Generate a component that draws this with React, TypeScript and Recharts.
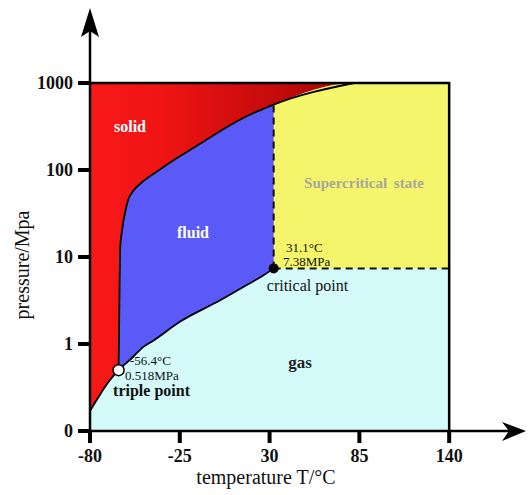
import { Area, ComposedChart, Line, ReferenceDot, Scatter, XAxis, YAxis } from 'recharts';

const SERIF = "'Liberation Serif', 'DejaVu Serif', serif";

const T_TICKS = [-80, -25, 30, 85, 140];
const P_TICKS = [0.1, 1, 10, 100, 1000];
const P_TICK_LABELS: Record<number, string> = { 0.1: '0', 1: '1', 10: '10', 100: '100', 1000: '1000' };

// solid / gas boundary, left edge up to the triple point
const sublimation = [
  { t: -80, p: 0.17 }, { t: -74, p: 0.26 }, { t: -68, p: 0.38 }, { t: -62.5, p: 0.5 },
];

// liquid / gas boundary, triple point to critical point
const vaporization = [
  { t: -62.5, p: 0.5 }, { t: -54, p: 0.7 }, { t: -47.5, p: 0.92 }, { t: -41, p: 1.1 },
  { t: -25, p: 1.8 }, { t: 0, p: 3.2 }, { t: 18, p: 5 }, { t: 26.5, p: 6.2 }, { t: 32.5, p: 7.4 },
];

// solid / liquid boundary
const melting = [
  { t: -62.5, p: 0.5 }, { t: -62, p: 3 }, { t: -61.6, p: 12 }, { t: -60.4, p: 20 },
  { t: -58.6, p: 32 }, { t: -56.7, p: 45 }, { t: -53.7, p: 57 }, { t: -47.5, p: 74 },
  { t: -39, p: 96 }, { t: -26.7, p: 137 }, { t: -12.6, p: 200 }, { t: 3.9, p: 312 },
  { t: 16.2, p: 418 }, { t: 26.6, p: 509 }, { t: 32.5, p: 565 }, { t: 81.7, p: 1000 },
];

const triplePoint = [{ t: -62.5, p: 0.5 }];
const criticalPoint = [{ t: 32.5, p: 7.4 }];

const T_MIN = -80;
const T_MAX = 140;
const P_MIN = 0.1;
const P_MAX = 1000;

const crit = criticalPoint[0];
const frame = [{ t: T_MIN, p: P_MAX }, { t: T_MAX, p: P_MAX }];
const frameEdge = [{ t: T_MIN, p: P_MAX }, { t: T_MAX, p: P_MAX }, { t: T_MAX, p: P_MIN }];
const belowMelting = [...melting, { t: T_MAX, p: P_MAX }];
const supercritical = [...melting.filter((d) => d.t >= crit.t), { t: T_MAX, p: P_MAX }];
const gas = [...sublimation, ...vaporization.slice(1), { t: T_MAX, p: crit.p }];
const gasLine = [...sublimation, ...vaporization.slice(1)];
const meltAtCrit = melting.find((d) => d.t >= crit.t)!;
const isotherm = [crit, { t: crit.t, p: meltAtCrit.p }];
const isobar = [crit, { t: T_MAX, p: crit.p }];

function note(
  key: string,
  t: number,
  p: number,
  text: string,
  style: { size?: number; weight?: string; color?: string; anchor?: 'start' | 'middle' | 'end'; spacing?: number } = {},
) {
  const { size = 14, weight = 'normal', color = '#111', anchor = 'middle', spacing = 0 } = style;
  return (
    <ReferenceDot
      key={key}
      x={t}
      y={p}
      r={0}
      ifOverflow="visible"
      shape={(d: any) => (
        <text
          x={d.cx}
          y={d.cy}
          dy="0.35em"
          textAnchor={anchor}
          fontFamily={SERIF}
          fontSize={size}
          fontWeight={weight}
          fill={color}
          wordSpacing={spacing}
        >
          {text}
        </text>
      )}
    />
  );
}

export default function App() {
  return (
    <div style={{ position: 'absolute', left: 0, top: 0, background: '#fff' }}>
      <ComposedChart width={528} height={495} margin={{ top: 15, right: 7, bottom: 0, left: 0 }}>
        <defs>
          <linearGradient id="solidFill" x1="0" y1="0" x2="1" y2="0">
            <stop offset="0%" stopColor="#f81818" />
            <stop offset="20%" stopColor="#f01414" />
            <stop offset="60%" stopColor="#b80808" />
            <stop offset="100%" stopColor="#a00000" />
          </linearGradient>
        </defs>
        <XAxis
          type="number"
          dataKey="t"
          domain={[T_MIN, 184]}
          ticks={T_TICKS}
          allowDataOverflow
          height={64}
          axisLine={{ stroke: '#000', strokeWidth: 2.5 }}
          tickLine={{ stroke: '#000', strokeWidth: 4 }}
          tickSize={12}
          tickMargin={6}
          tick={{ fill: '#111', fontSize: 18, fontWeight: 'bold', fontFamily: SERIF }}
        />
        <YAxis
          type="number"
          scale="log"
          domain={[P_MIN, 6048]}
          ticks={P_TICKS}
          allowDataOverflow
          width={90}
          axisLine={{ stroke: '#000', strokeWidth: 2.5 }}
          tickLine={{ stroke: '#000', strokeWidth: 4 }}
          tickSize={12}
          tickMargin={5}
          tickFormatter={(v: number) => P_TICK_LABELS[v] ?? String(v)}
          tick={{ fill: '#111', fontSize: 18, fontWeight: 'bold', fontFamily: SERIF }}
        />

        <Area data={frame} dataKey="p" baseValue={P_MIN} fill="url(#solidFill)" fillOpacity={1} stroke="none" isAnimationActive={false} />
        <Area type="monotone" data={belowMelting} dataKey="p" baseValue={P_MIN} fill="#5a5af8" fillOpacity={1} stroke="none" isAnimationActive={false} />
        <Area type="monotone" data={supercritical} dataKey="p" baseValue={P_MIN} fill="#f5f56c" fillOpacity={1} stroke="none" isAnimationActive={false} />
        <Area type="monotone" data={gas} dataKey="p" baseValue={P_MIN} fill="#d4fafa" fillOpacity={1} stroke="none" isAnimationActive={false} />

        <Line type="monotone" data={melting} dataKey="p" stroke="#000" strokeWidth={1.8} dot={false} isAnimationActive={false} />
        <Line type="monotone" data={gasLine} dataKey="p" stroke="#000" strokeWidth={1.8} dot={false} isAnimationActive={false} />
        <Line data={isotherm} dataKey="p" stroke="#111" strokeWidth={2} strokeDasharray="7 5" dot={false} isAnimationActive={false} />
        <Line data={isobar} dataKey="p" stroke="#111" strokeWidth={2} strokeDasharray="7 5" dot={false} isAnimationActive={false} />
        <Line data={frameEdge} dataKey="p" stroke="#000" strokeWidth={2.5} dot={false} isAnimationActive={false} />

        <Scatter
          data={triplePoint}
          dataKey="p"
          isAnimationActive={false}
          shape={(d: any) => <circle cx={d.cx} cy={d.cy} r={5.5} fill="#fff" stroke="#000" strokeWidth={1.5} />}
        />
        <Scatter
          data={criticalPoint}
          dataKey="p"
          isAnimationActive={false}
          shape={(d: any) => <circle cx={d.cx} cy={d.cy} r={5} fill="#000" />}
        />

        <ReferenceDot
          x={T_MIN}
          y={6048}
          r={0}
          ifOverflow="visible"
          shape={(d: any) => (
            <path
              d={`M${d.cx},${d.cy - 7} L${d.cx + 9},${d.cy + 22} L${d.cx},${d.cy + 16} L${d.cx - 9},${d.cy + 22} Z`}
              fill="#000"
            />
          )}
        />
        <ReferenceDot
          x={184}
          y={P_MIN}
          r={0}
          ifOverflow="visible"
          shape={(d: any) => (
            <path
              d={`M${d.cx + 5},${d.cy} L${d.cx - 19},${d.cy - 9} L${d.cx - 12},${d.cy} L${d.cx - 19},${d.cy + 10} Z`}
              fill="#000"
            />
          )}
        />

        {note('solid', -55.5, 320, 'solid', { size: 16, weight: 'bold', color: '#fff' })}
        {note('fluid', -16.9, 19, 'fluid', { size: 16, weight: 'bold', color: '#fff' })}
        {note('sc', 87.8, 71, 'Supercritical state', { size: 15, weight: 'bold', color: '#a8a89a', spacing: 3 })}
        {note('gas', 48.6, 0.62, 'gas', { size: 17, weight: 'bold', color: '#222' })}
        {note('tp', -42.3, 0.296, 'triple point', { size: 16, weight: 'bold', color: '#111' })}
        {note('tpT', -55.5, 0.64, '-56.4°C', { size: 13, anchor: 'start' })}
        {note('tpP', -58.6, 0.44, '0.518MPa', { size: 13, anchor: 'start' })}
        {note('cpT', 40.1, 13, '31.1°C', { size: 13, anchor: 'start' })}
        {note('cpP', 38.2, 9, '7.38MPa', { size: 13, anchor: 'start' })}
        {note('cp', 53.2, 4.77, 'critical point', { size: 16, color: '#111' })}

        <ReferenceDot
          x={27.8}
          y={P_MIN}
          r={0}
          ifOverflow="visible"
          shape={(d: any) => (
            <text x={d.cx} y={d.cy + 46} dy="0.35em" textAnchor="middle" fontFamily={SERIF} fontSize={20} fill="#111">
              temperature T/°C
            </text>
          )}
        />
        <ReferenceDot
          x={T_MIN}
          y={8.1}
          r={0}
          ifOverflow="visible"
          shape={(d: any) => (
            <text
              x={d.cx - 68}
              y={d.cy}
              dy="0.35em"
              textAnchor="middle"
              transform={`rotate(-90 ${d.cx - 68} ${d.cy})`}
              fontFamily={SERIF}
              fontSize={20}
              fill="#111"
            >
              pressure/Mpa
            </text>
          )}
        />
      </ComposedChart>
    </div>
  );
}
